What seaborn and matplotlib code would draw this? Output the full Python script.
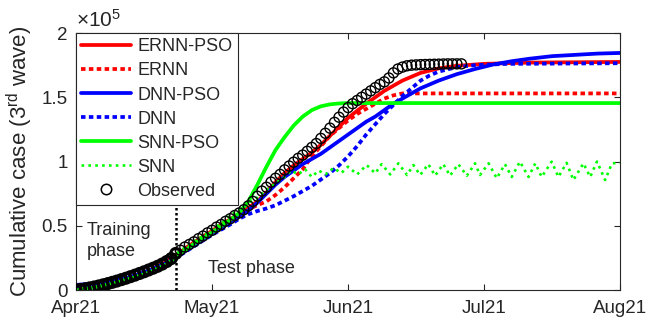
import matplotlib
matplotlib.use("Agg")
import matplotlib.pyplot as plt
import seaborn as sns

# ---- data (cumulative cases, in units of 1e5; x = days since 1 Apr 2021) ----
obs_days = list(range(0, 86))
observed = [
    0.00, 0.005, 0.01, 0.017, 0.024, 0.032, 0.041, 0.050, 0.060, 0.070,
    0.081, 0.092, 0.104, 0.116, 0.129, 0.142, 0.156, 0.170, 0.185, 0.202,
    0.222, 0.245, 0.285, 0.31, 0.335, 0.355, 0.375, 0.40, 0.42, 0.445,
    0.465, 0.49, 0.51, 0.535, 0.555, 0.58, 0.60, 0.625, 0.655, 0.69,
    0.73, 0.77, 0.80, 0.84, 0.87, 0.90, 0.935, 0.965, 0.995, 1.025,
    1.05, 1.08, 1.11, 1.14, 1.18, 1.22, 1.26, 1.305, 1.345, 1.385,
    1.42, 1.45, 1.475, 1.50, 1.525, 1.55, 1.575, 1.60, 1.62, 1.65,
    1.69, 1.72, 1.735, 1.745, 1.75, 1.752, 1.754, 1.755, 1.756, 1.757,
    1.758, 1.759, 1.76, 1.76, 1.76, 1.76,
]

ernn_pso_days = [0, 4, 8, 12, 16, 20, 22, 26, 30, 34, 38, 40, 42, 44, 46, 48, 50, 52, 54, 56,
                 60, 64, 68, 72, 76, 80, 84, 90, 100, 120]
ernn_pso = [0.01, 0.025, 0.055, 0.10, 0.15, 0.22, 0.27, 0.37, 0.46, 0.55, 0.64, 0.69, 0.76, 0.84,
            0.91, 0.97, 1.02, 1.07, 1.13, 1.20, 1.34, 1.45, 1.55, 1.63, 1.69, 1.725, 1.745,
            1.76, 1.77, 1.775]

ernn_days = [0, 4, 8, 12, 16, 20, 22, 26, 30, 34, 38, 40, 42, 44, 46, 48, 50, 52, 54, 56,
             58, 60, 62, 64, 66, 68, 70, 72, 120]
ernn = [0.01, 0.025, 0.055, 0.10, 0.15, 0.22, 0.27, 0.37, 0.46, 0.55, 0.63, 0.66, 0.69, 0.74,
        0.80, 0.87, 0.94, 1.04, 1.12, 1.20, 1.26, 1.32, 1.37, 1.41, 1.45, 1.49, 1.515, 1.53, 1.53]

dnn_pso_days = [0, 4, 8, 12, 16, 20, 22, 26, 30, 34, 38, 40, 42, 44, 46, 48, 50, 52, 54, 56,
                58, 60, 62, 64, 66, 68, 70, 72, 74, 76, 78, 80, 84, 88, 92, 96, 100, 105, 110,
                115, 120]
dnn_pso = [0.04, 0.05, 0.07, 0.10, 0.15, 0.21, 0.25, 0.35, 0.44, 0.53, 0.62, 0.68, 0.75, 0.82,
           0.88, 0.93, 0.98, 1.02, 1.06, 1.11, 1.16, 1.21, 1.26, 1.31, 1.35, 1.40, 1.45, 1.49,
           1.53, 1.57, 1.60, 1.63, 1.68, 1.72, 1.755, 1.78, 1.80, 1.82, 1.83, 1.84, 1.845]

dnn_days = [0, 4, 8, 12, 16, 20, 22, 26, 30, 34, 36, 38, 40, 42, 44, 46, 48, 50, 52, 54, 56,
            58, 60, 62, 64, 66, 68, 70, 72, 74, 76, 78, 80, 84, 88, 95, 120]
dnn = [0.03, 0.04, 0.065, 0.10, 0.15, 0.21, 0.25, 0.34, 0.43, 0.51, 0.555, 0.59, 0.615, 0.635,
       0.66, 0.695, 0.73, 0.77, 0.81, 0.86, 0.91, 0.97, 1.04, 1.12, 1.21, 1.29, 1.37, 1.44, 1.51,
       1.57, 1.63, 1.67, 1.70, 1.735, 1.75, 1.76, 1.765]

snn_pso_days = [0, 4, 8, 12, 16, 20, 22, 26, 30, 34, 36, 38, 40, 42, 44, 46, 48, 50, 52, 54,
                56, 58, 60, 64, 70, 120]
snn_pso = [0.0, 0.02, 0.05, 0.09, 0.135, 0.20, 0.255, 0.36, 0.45, 0.545, 0.60, 0.69, 0.82, 0.96,
           1.09, 1.19, 1.28, 1.35, 1.40, 1.43, 1.445, 1.452, 1.455, 1.455, 1.455, 1.455]

snn_days = [0, 4, 8, 12, 16, 20, 22, 24, 26, 28, 30, 32, 34, 36, 38, 40, 42, 44, 46, 47.5, 49,
            50.5, 52, 53.5, 55, 56.8, 58.5, 60, 62, 64.1, 66.0, 67.4, 69.3, 71.1, 73.0, 74.4,
            75.9, 77.7, 79.2, 81.0, 82.5, 84.3, 86.2, 88.0, 89.1, 91.0, 92.8, 94.6, 96.1, 97.9,
            99.8, 101.3, 102.7, 104.9, 106.4, 108.2, 109.7, 111.9, 113.4, 114.9, 116.7, 118.2,
            120]
snn = [0.0, 0.02, 0.05, 0.09, 0.135, 0.20, 0.28, 0.33, 0.38, 0.42, 0.47, 0.52, 0.58, 0.63, 0.68,
       0.72, 0.78, 0.83, 0.88, 0.93, 0.90, 0.94, 0.88, 0.93, 0.90, 0.95, 0.91, 0.96, 0.90, 0.973,
       0.908, 0.98, 0.90, 0.986, 0.895, 0.973, 0.895, 0.98, 0.89, 0.98, 0.89, 0.98, 0.89, 0.986,
       0.895, 0.986, 0.87, 0.98, 0.88, 0.999, 0.88, 0.986, 0.88, 0.999, 0.88, 0.99, 0.856, 0.986,
       0.88, 1.0, 0.856, 0.986, 0.99]

split_day = 22
month_ticks = [0, 30, 60, 90, 120]
month_labels = ["Apr21", "May21", "Jun21", "Jul21", "Aug21"]
y_ticks = [0, 0.5, 1, 1.5, 2]
y_labels = ["0", "0.5", "1", "1.5", "2"]

# ---- style ----
sns.set_theme(style="white")
plt.rcParams["font.family"] = ["Liberation Sans", "DejaVu Sans"]
plt.rcParams["font.size"] = 13
plt.rcParams["mathtext.fontset"] = "custom"
plt.rcParams["mathtext.rm"] = "Liberation Sans"
plt.rcParams["mathtext.it"] = "Liberation Sans"

fig = plt.figure(figsize=(6.5, 3.27), dpi=100)
ax = fig.add_axes([0.117, 0.113, 0.837, 0.786])

RED, BLUE, GREEN = "#ff0000", "#0000ff", "#00ff00"
TXT = "#262626"
lw = 2.7
dot = (0, (1.2, 0.9))

series = [
    ("ERNN-PSO", ernn_pso_days, ernn_pso, RED, "-", lw),
    ("ERNN", ernn_days, ernn, RED, dot, lw),
    ("DNN-PSO", dnn_pso_days, dnn_pso, BLUE, "-", lw),
    ("DNN", dnn_days, dnn, BLUE, dot, lw),
    ("SNN-PSO", snn_pso_days, snn_pso, GREEN, "-", lw),
    ("SNN", snn_days, snn, GREEN, (0, (1, 1.6)), 1.9),
]

ax.axvline(split_day, color="black", linestyle=(0, (1, 1)), lw=1.8, zorder=1)

handles = []
for name, xs, ys, col, ls, w in series:
    sns.lineplot(x=xs, y=ys, ax=ax, color=col, linestyle=ls, lw=w, sort=False,
                 estimator=None, label=name, zorder=2)
    handles.append(ax.lines[-1])

# observed counts: dense daily circles (training part overlaps into a solid band)
n_train = split_day + 1
sns.scatterplot(x=obs_days[:n_train], y=observed[:n_train], ax=ax, marker="o", s=52,
                facecolor="none", edgecolor="black", linewidth=2.2, zorder=3)
sns.scatterplot(x=obs_days[n_train:], y=observed[n_train:], ax=ax, marker="o", s=52,
                facecolor="none", edgecolor="black", linewidth=1.0, zorder=3)
obs_handle = plt.Line2D([], [], marker="o", ls="none", mfc="none", mec="black",
                        ms=7.5, mew=1.1)

ax.set_xlim(0, 120)
ax.set_ylim(0, 2)
ax.set_xticks(month_ticks)
ax.set_xticklabels(month_labels)
ax.set_yticks(y_ticks)
ax.set_yticklabels(y_labels)
ax.tick_params(direction="in", length=4, width=0.8, colors=TXT, labelsize=13.5,
               top=True, right=True, bottom=True, left=True)
ax.tick_params(axis="x", pad=7)
ax.tick_params(axis="y", pad=6)
for s in ax.spines.values():
    s.set_color(TXT)
    s.set_linewidth(0.8)

ax.set_ylabel("Cumulative case (3$^{\\mathrm{rd}}$ wave)", fontsize=16, color=TXT,
              labelpad=5)
ax.text(0.0, 1.01, "$\\times$10$^{5}$", transform=ax.transAxes, ha="left", va="bottom",
        fontsize=15, color=TXT)

ax.text(2.3, 0.53, "Training\nphase", ha="left", va="top", fontsize=13,
        color=TXT, linespacing=1.35)
ax.text(29, 0.165, "Test phase", ha="left", va="center", fontsize=13, color=TXT)

leg = ax.legend(handles + [obs_handle],
                [s[0] for s in series] + ["Observed"],
                loc="upper left", borderaxespad=0, frameon=True, fancybox=False,
                edgecolor=TXT, framealpha=1, fontsize=13, handlelength=2.75,
                handletextpad=0.35, labelspacing=0.39, borderpad=0.3)
leg.get_frame().set_linewidth(0.8)
leg.set_zorder(5)

fig.savefig("out.png", dpi=100)
